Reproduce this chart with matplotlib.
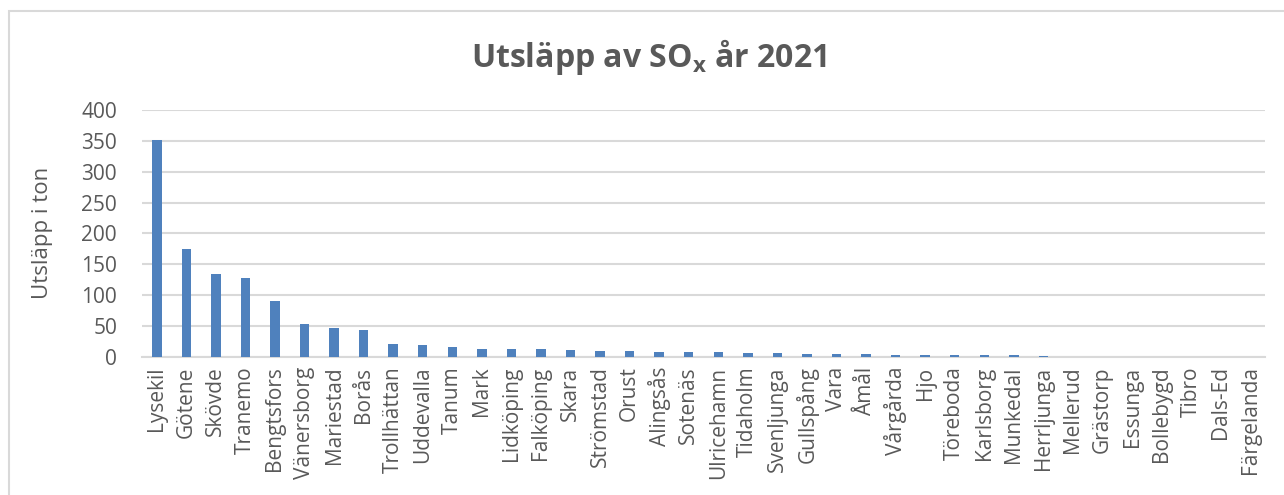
import matplotlib
matplotlib.use("Agg")
import matplotlib.pyplot as plt
from matplotlib.patches import Rectangle

# -----------------------------
# Data
# -----------------------------
kommuner = ["Lysekil", "Götene", "Skövde", "Tranemo", "Bengtsfors", "Vänersborg",
            "Mariestad", "Borås", "Trollhättan", "Uddevalla", "Tanum", "Mark",
            "Lidköping", "Falköping", "Skara", "Strömstad", "Orust", "Alingsås",
            "Sotenäs", "Ulricehamn", "Tidaholm", "Svenljunga", "Gullspång", "Vara",
            "Åmål", "Vårgårda", "Hjo", "Töreboda", "Karlsborg", "Munkedal",
            "Herrljunga", "Mellerud", "Grästorp", "Essunga", "Bollebygd", "Tibro",
            "Dals-Ed", "Färgelanda"]

utslapp = [352, 175, 134, 127, 90, 53,
           46, 43, 20, 18.5, 15, 12.5,
           12, 12, 10.5, 9, 8.5, 8,
           8, 7, 6, 6, 5, 4.5,
           4.5, 3.3, 2.7, 2.5, 2.3, 2,
           1.5, 0, 0, 0, 0, 0,
           0, 0]

yticks = [0, 50, 100, 150, 200, 250, 300, 350, 400]

# -----------------------------
# Style
# -----------------------------
plt.rcParams["font.family"] = ["Open Sans", "DejaVu Sans"]
plt.rcParams["mathtext.fontset"] = "custom"
plt.rcParams["mathtext.bf"] = "Open Sans:bold"
plt.rcParams["mathtext.rm"] = "Open Sans"

txt = "#595959"
grid = "#d9d9d9"
bar_color = "#4f81bd"

fig = plt.figure(figsize=(12.84, 4.95), dpi=100)
ax = fig.add_axes([0.1106, 0.2794, 0.8746, 0.4984])

# chart border (Excel style)
fig.patches.append(Rectangle((9 / 1284, -0.1), 1.2, (495 - 11) / 495 + 0.1,
                             transform=fig.transFigure, fill=False,
                             edgecolor=grid, linewidth=1.5))

x = range(len(kommuner))
ax.bar(x, utslapp, width=0.32, color=bar_color, zorder=3)

ax.set_xlim(-0.5, len(kommuner) - 0.5)
ax.set_ylim(0, 400)
ax.set_yticks(yticks)
ax.set_xticks(list(x))
ax.set_xticklabels(kommuner, rotation=90, fontsize=15, color=txt)
ax.tick_params(axis="y", labelsize=15, labelcolor=txt, length=0, pad=18)
ax.tick_params(axis="x", length=0, pad=7)

ax.grid(axis="y", color=grid, linewidth=1.5, zorder=0)
for s in ["top", "right", "left"]:
    ax.spines[s].set_visible(False)
ax.spines["bottom"].set_color(grid)
ax.spines["bottom"].set_linewidth(1.5)

ax.set_ylabel("Utsläpp i ton", fontsize=16, color=txt, labelpad=20)

fig.text(0.505, 0.885, r"Utsläpp av SO$_\mathbf{x}$ år 2021", ha="center", va="center",
         fontsize=23, fontweight="bold", color=txt)

fig.savefig("out.png", dpi=100)
